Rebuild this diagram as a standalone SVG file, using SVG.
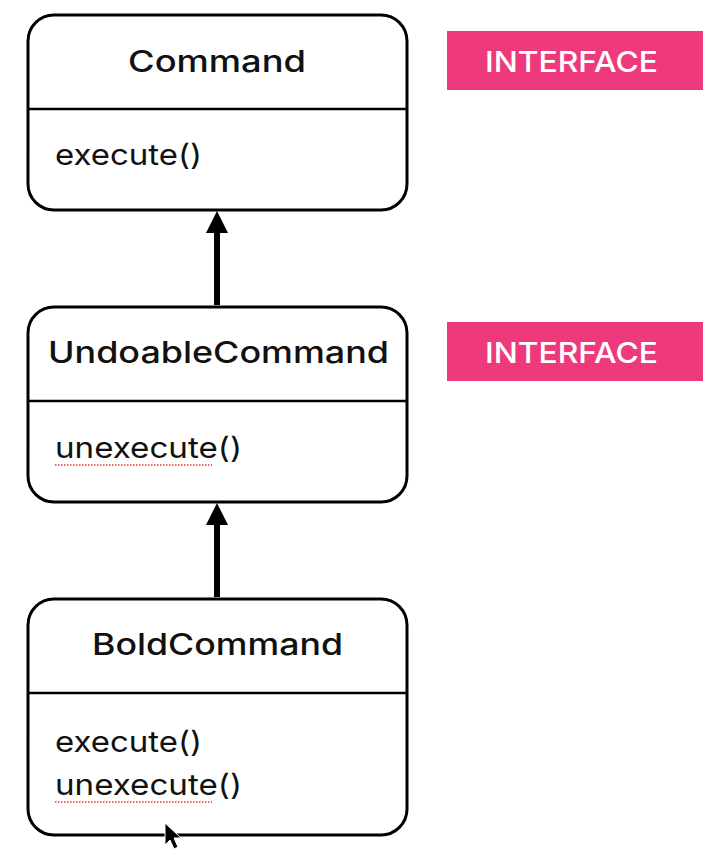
<svg xmlns="http://www.w3.org/2000/svg" width="725" height="855" viewBox="0 0 725 855">
<defs>
<style>
.box{fill:#fff;stroke:#000;stroke-width:3}
.div{stroke:#000;stroke-width:2.5}
.t{font-family:Inter,"Open Sans","Liberation Sans",sans-serif;font-size:30px;font-weight:500;fill:#111}
.m{font-family:Inter,"Open Sans","Liberation Sans",sans-serif;font-size:29px;font-weight:400;fill:#111}
.tag{fill:#ee3a7c}
.tagt{font-family:Inter,"Open Sans","Liberation Sans",sans-serif;font-size:29px;font-weight:500;fill:#fff}
.sq{stroke:#e53935;stroke-width:1.5;stroke-dasharray:1.5 1.5;fill:none}
.conn{stroke:#000;stroke-width:6;fill:none}
</style>
</defs>
<g id="connectors">
<line class="conn" x1="217" y1="305" x2="217" y2="230"/>
<path d="M206,233 L217,211 L228,233 Z" fill="#000"/>
<line class="conn" x1="217" y1="597" x2="217" y2="522"/>
<path d="M206,525 L217,503 L228,525 Z" fill="#000"/>
</g>
<g id="command">
<rect class="box" x="28" y="15" width="379" height="195" rx="26"/>
<line class="div" x1="28" y1="109" x2="407" y2="109"/>
<text class="t" x="128" y="72" textLength="178" lengthAdjust="spacingAndGlyphs">Command</text>
<text class="m" x="55" y="165" textLength="147" lengthAdjust="spacingAndGlyphs">execute()</text>
</g>
<g id="tag1">
<rect class="tag" x="447" y="31" width="256" height="59"/>
<text class="tagt" x="485" y="72" textLength="173" lengthAdjust="spacingAndGlyphs">INTERFACE</text>
</g>
<g id="undoable">
<rect class="box" x="28" y="307" width="379" height="195" rx="26"/>
<line class="div" x1="28" y1="401" x2="407" y2="401"/>
<text class="t" x="48" y="363" textLength="341" lengthAdjust="spacingAndGlyphs">UndoableCommand</text>
<text class="m" x="55" y="458" textLength="187" lengthAdjust="spacingAndGlyphs">unexecute()</text>
<line class="sq" x1="55" y1="465" x2="212" y2="465"/>
</g>
<g id="tag2">
<rect class="tag" x="447" y="322" width="256" height="59"/>
<text class="tagt" x="485" y="363" textLength="173" lengthAdjust="spacingAndGlyphs">INTERFACE</text>
</g>
<g id="bold">
<rect class="box" x="28" y="599" width="379" height="236" rx="26"/>
<line class="div" x1="28" y1="693" x2="407" y2="693"/>
<text class="t" x="92" y="655" textLength="251" lengthAdjust="spacingAndGlyphs">BoldCommand</text>
<text class="m" x="55" y="752" textLength="147" lengthAdjust="spacingAndGlyphs">execute()</text>
<text class="m" x="55" y="795" textLength="187" lengthAdjust="spacingAndGlyphs">unexecute()</text>
<line class="sq" x1="55" y1="802" x2="212" y2="802"/>
</g>
<g id="cursor">
<path d="M165,823 L165,845 L170,840 L174,849 L178,847 L174,838 L181,838 Z" fill="#000" stroke="#fff" stroke-width="1"/>
</g>
</svg>
